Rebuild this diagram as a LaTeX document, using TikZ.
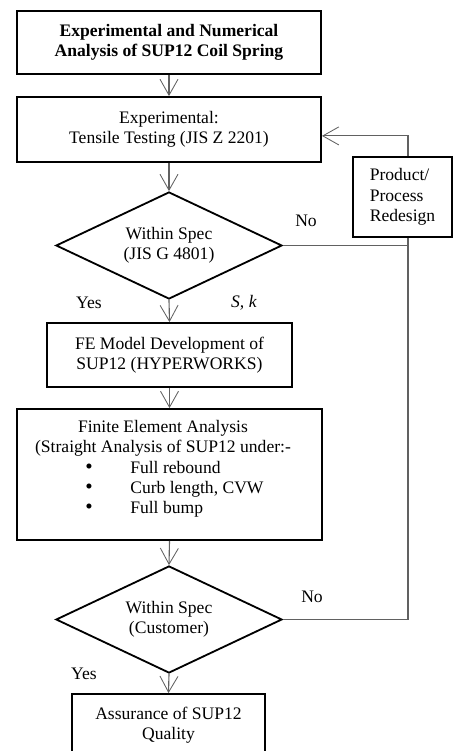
\documentclass[tikz,border=0pt]{standalone}
\usepackage{fontspec}
\setmainfont{Liberation Serif}
\usetikzlibrary{arrows.meta,shapes.geometric}
\newcommand{\listdot}{\smash{\fontsize{15}{14.4}\selectfont\textbullet}}

\begin{document}
\begin{tikzpicture}[x=0.025cm, y=-0.025cm,
	every node/.style={font=\fontsize{12.5}{14.4}\selectfont},
	box/.style={draw, line width=1.3pt, align=center, inner sep=2pt},
	decision/.style={draw, diamond, aspect=2, line width=1.3pt, align=center, inner sep=0pt, minimum width=5.65cm, minimum height=2.675cm},
	link/.style={draw=black!62, line width=0.8pt},
	flow/.style={link, -{Straight Barb[length=0.4cm, width=0.45cm, line width=0.6pt]}}]
	\useasboundingbox (0,0) rectangle (453,751);
	\clip (0,0) rectangle (453,751);
	\node[box, minimum width=7.6cm, minimum height=1.575cm, font=\fontsize{12.5}{14.4}\selectfont\bfseries] (box1) at (169,42.5) {Experimental and Numerical\\Analysis of SUP12 Coil Spring};
	\node[box, minimum width=7.6cm, minimum height=1.625cm] (box2) at (169,129.5) {Experimental:\\Tensile Testing (JIS Z 2201)};
	\node[decision] (d1) at (169,245.5) {Within Spec\\(JIS G 4801)};
	\node[box, minimum width=2.475cm, minimum height=2.0cm, align=left] (redesign) at (402.5,197) {Product/\\Process\\Redesign};
	\node[box, minimum width=6.125cm, minimum height=1.6cm] (box3) at (169.5,355) {FE Model Development of\\SUP12 (HYPERWORKS)};
	\node[box, minimum width=7.625cm, minimum height=3.275cm] (box4) at (169.5,474.5) {};
	\node[align=center] (featitle) at (163,438) {Finite Element Analysis\\(Straight Analysis of SUP12 under:-};
	\node[anchor=west, inner sep=0pt] (fealist) at (85,489.5) {\begin{tabular}{@{}p{1.125cm}@{}l@{}}\listdot & Full rebound\\ \listdot & Curb length, CVW\\ \listdot & Full bump\end{tabular}};
	\node[decision] (d2) at (169,619.5) {Within Spec\\(Customer)};
	\node[box, minimum width=4.825cm, minimum height=1.55cm] (box5) at (168.5,725) {Assurance of SUP12\\Quality};
	\coordinate (rail) at (408,197);
	\node (no1) at (306,221) {No};
	\node (yes1) at (89,303) {Yes};
	\node (sk) at (244,303) {\textit{S, k}};
	\node (no2) at (312,597) {No};
	\node (yes2) at (84,674) {Yes};
	\draw[flow] (box1.south) -- (box2.north);
	\draw[flow] (box2.south) -- (d1.north);
	\draw[flow] (d1.south) -- (box3.north);
	\draw[flow] (box3.south) -- (box4.north);
	\draw[flow] (box4.south) -- (d2.north);
	\draw[flow] (d2.south) -- (box5.north);
	\draw[flow] (rail |- redesign.north) |- ([yshift=-0.16cm]box2.east);
	\draw[link] (d1.east) -- (d1.east -| rail);
	\draw[link] (rail |- redesign.south) |- (d2.east);
\end{tikzpicture}
\end{document}
